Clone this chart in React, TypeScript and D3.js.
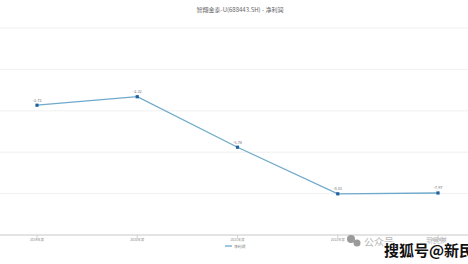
import React from "react";
import * as d3 from "d3";

const categories = ["2019年报", "2020年报", "2021年报", "2022年报", "2023年报"];
const netProfit = [-3.73, -3.32, -5.76, -8.01, -7.97];
const yTicks = [-10, -8, -6, -4, -2, 0];
const title = "智翔金泰-U(688443.SH) - 净利润";
const seriesName = "净利润";

const W = 468;
const H = 264;

export default function App() {
  const x = d3.scalePoint<string>().domain(categories).range([37, 438]);
  const y = d3.scaleLinear().domain([-10, 0]).range([235, 28]);
  const line = d3
    .line<number>()
    .x((_, i) => x(categories[i]) as number)
    .y((d) => y(d));
  const font = "'Noto Sans CJK SC', 'Noto Sans', sans-serif";

  return (
    <svg
      width={W}
      height={H}
      style={{ position: "absolute", left: 0, top: 0, background: "#fff" }}
      fontFamily={font}
    >
      <rect width={W} height={H} fill="#fff" />
      <text x={240} y={12} textAnchor="middle" fontSize={6} fill="#666">
        {title}
      </text>
      {yTicks.slice(1).map((t) => (
        <line key={t} x1={0} x2={W} y1={y(t)} y2={y(t)} stroke="#ececec" strokeWidth={0.8} />
      ))}
      <line x1={0} x2={W} y1={y(-10)} y2={y(-10)} stroke="#c8c8c8" strokeWidth={1} />
      {categories.map((c) => (
        <g key={c}>
          <line x1={x(c)} x2={x(c)} y1={y(-10)} y2={y(-10) + 3} stroke="#c8c8c8" strokeWidth={0.8} />
          <text x={x(c)} y={y(-10) + 5.5} textAnchor="middle" fontSize={3.3} fill="#888">
            {c}
          </text>
        </g>
      ))}
      <path d={line(netProfit) || ""} fill="none" stroke="#6fa9cc" strokeWidth={1.3} />
      {netProfit.map((v, i) => {
        const cx = x(categories[i]) as number;
        const cy = y(v);
        return (
          <g key={i}>
            <rect x={cx - 1.6} y={cy - 1.6} width={3.2} height={3.2} fill="#1f62a0" />
            <text x={cx} y={cy - 3.5} textAnchor="middle" fontSize={4} fill="#777">
              {v.toFixed(2)}
            </text>
          </g>
        );
      })}
      <line x1={225} x2={232} y1={246} y2={246} stroke="#6fa9cc" strokeWidth={1.3} />
      <text x={234} y={247.5} fontSize={3.8} fill="#777">
        {seriesName}
      </text>
      {/* watermark */}
      <g>
        <circle cx={351} cy={239} r={4} fill="#9a9a9a" />
        <circle cx={357} cy={243} r={3.5} fill="#9a9a9a" />
        <text x={364} y={246} fontSize={10} fill="#b5b5b5">
          公众号
        </text>
        <text x={426} y={243} fontSize={7} fill="#bbb">
          新民财
        </text>
        <text
          x={384}
          y={256}
          fontSize={15}
          fontWeight="bold"
          fill="#111"
          stroke="#fff"
          strokeWidth={2.5}
          paintOrder="stroke"
        >
          搜狐号@新民财经
        </text>
      </g>
    </svg>
  );
}
